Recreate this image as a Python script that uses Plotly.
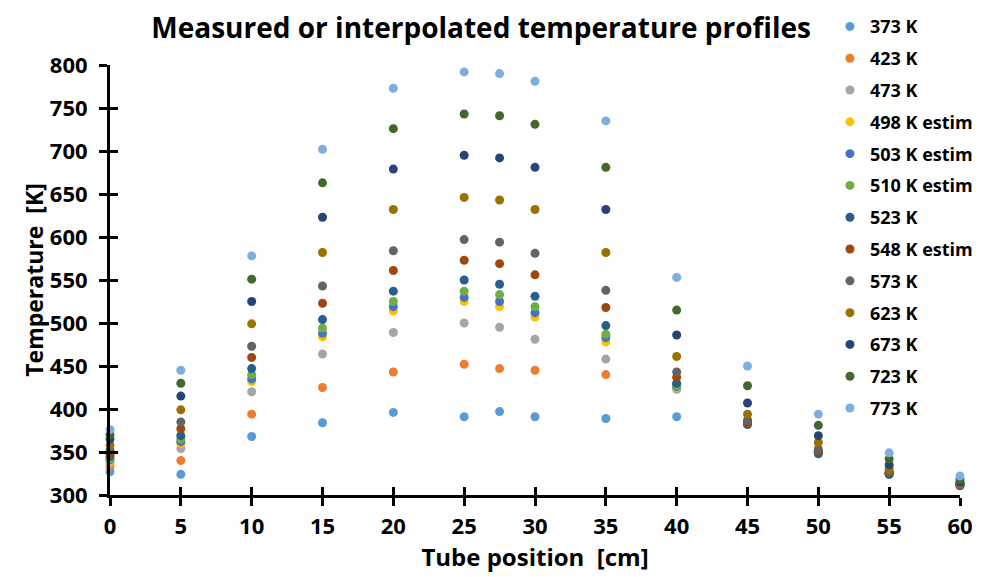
import plotly.graph_objects as go

positions = [0, 5, 10, 15, 20, 25, 27.5, 30, 35, 40, 45, 50, 55, 60]
tick_x = [0, 5, 10, 15, 20, 25, 30, 35, 40, 45, 50, 55, 60]
tick_y = [300, 350, 400, 450, 500, 550, 600, 650, 700, 750, 800]

series_names = ["373 K", "423 K", "473 K", "498 K estim", "503 K estim", "510 K estim",
                "523 K", "548 K estim", "573 K", "623 K", "673 K", "723 K", "773 K"]

t373 = [327, 324, 368, 384, 396, 391, 397, 391, 389, 391, 383, 349, 324, 311]
t423 = [333, 340, 394, 425, 443, 452, 447, 445, 440, 428, 386, 350, 325, 311]
t473 = [336, 354, 420, 464, 489, 500, 495, 481, 458, 423, 385, 351, 326, 312]
t498 = [339, 360, 432, 484, 514, 525, 519, 507, 478, 425, 384, 351, 326, 312]
t503 = [341, 362, 435, 488, 519, 530, 525, 512, 483, 426, 384, 351, 326, 312]
t510 = [342, 365, 440, 494, 525, 537, 533, 519, 487, 427, 384, 351, 326, 312]
t523 = [345, 369, 447, 504, 537, 550, 545, 531, 497, 430, 382, 348, 324, 311]
t548 = [348, 377, 460, 523, 561, 573, 569, 556, 518, 437, 384, 351, 326, 312]
t573 = [352, 385, 473, 543, 584, 597, 594, 581, 538, 443, 387, 353, 327, 312]
t623 = [358, 399, 499, 582, 632, 646, 643, 632, 582, 461, 394, 361, 330, 313]
t673 = [365, 415, 525, 623, 679, 695, 692, 681, 632, 486, 407, 369, 335, 315]
t723 = [370, 430, 551, 663, 726, 743, 741, 731, 681, 515, 427, 381, 342, 318]
t773 = [376, 445, 578, 702, 773, 792, 790, 781, 735, 553, 450, 394, 349, 322]

all_series = [t373, t423, t473, t498, t503, t510, t523, t548, t573, t623, t673, t723, t773]

colors = ["#5B9BD5", "#ED7D31", "#A5A5A5", "#FFC000", "#4472C4", "#70AD47",
          "#255E91", "#9E480E", "#636363", "#997300", "#264478", "#43682B", "#7CAFDD"]

FONT = "Open Sans"

fig = go.Figure()
for i, (name, vals) in enumerate(zip(series_names, all_series)):
    fig.add_trace(go.Scatter(
        x=positions, y=vals, mode="markers", name=f"<b>{name}</b>",
        legendgroup=f"g{i}",
        marker=dict(size=9, color=colors[i], line=dict(width=0)),
        cliponaxis=False,
    ))

# invisible trace so the overlay axes (inner half of the crossing ticks) get drawn
fig.add_trace(go.Scatter(x=[positions[0]], y=[tick_y[0]], xaxis="x2", yaxis="y2", mode="markers",
                         marker=dict(opacity=0), showlegend=False, hoverinfo="skip"))

axis_common = dict(showgrid=False, zeroline=False, showline=True, linecolor="black",
                   linewidth=3, ticks="outside", ticklen=8, tickwidth=3, tickcolor="black",
                   mirror=False, automargin=False)

fig.update_layout(
    width=984, height=577,
    margin=dict(l=110, r=24, t=65, b=82, autoexpand=False),
    paper_bgcolor="white", plot_bgcolor="white",
    font=dict(family=FONT, color="black"),
    title=dict(text="<b>Measured or interpolated temperature profiles</b>",
               x=0.489, xanchor="center", y=0.951, yanchor="middle",
               font=dict(size=28, family=FONT, color="black")),
    xaxis=dict(range=[0, 60], tickmode="array", tickvals=tick_x,
               ticktext=[f"<b>{v}</b>" for v in tick_x],
               tickfont=dict(size=22, family=FONT), ticklabelstandoff=2,
               title=dict(text="<b>Tube position  [cm]</b>", font=dict(size=24, family=FONT), standoff=0),
               **axis_common),
    yaxis=dict(range=[300, 800], tickmode="array", tickvals=tick_y,
               ticktext=[f"<b>{v}</b>" for v in tick_y],
               tickfont=dict(size=22, family=FONT), ticklabelstandoff=7,
               title=dict(text="<b>Temperature  [K]</b>", font=dict(size=23, family=FONT), standoff=0),
               **axis_common),
    xaxis2=dict(overlaying="x", range=[0, 60], tickmode="array", tickvals=tick_x,
                showticklabels=False, showgrid=False, zeroline=False, showline=False,
                ticks="inside", ticklen=8, tickwidth=3, tickcolor="black", side="bottom", anchor="y2"),
    yaxis2=dict(overlaying="y", range=[300, 800], tickmode="array", tickvals=tick_y,
                showticklabels=False, showgrid=False, zeroline=False, showline=False,
                ticks="inside", ticklen=8, tickwidth=3, tickcolor="black", side="left", anchor="x2"),
    legend=dict(x=0.847, xanchor="left", y=1.132, yanchor="top",
                font=dict(size=18, family=FONT, color="black"),
                bgcolor="rgba(0,0,0,0)", tracegroupgap=5.4, itemclick=False,
                maxheight=1.0),
    showlegend=True,
)

fig.write_html("out.html")
